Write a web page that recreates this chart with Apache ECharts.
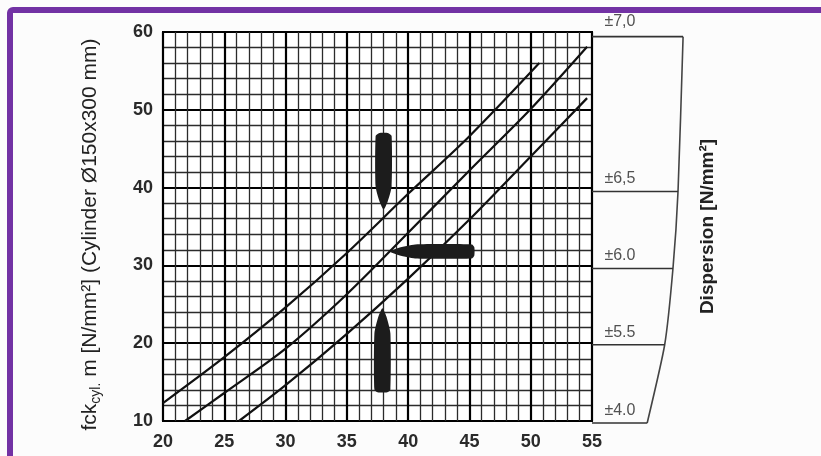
<!DOCTYPE html>
<html>
<head>
<meta charset="utf-8">
<script src="https://cdn.jsdelivr.net/npm/echarts@6/dist/echarts.min.js"></script>
<style>
html,body{margin:0;padding:0;background:#fcfcfc;}
#chart{width:821px;height:456px;}
</style>
</head>
<body>
<div id="chart"></div>
<script>
// ---- data ----
const xTicks = [20, 25, 30, 35, 40, 45, 50, 55];
const yTicks = [10, 20, 30, 40, 50, 60];
const curveA = [[20,12.3],[25,18.2],[30,24.6],[35,31.6],[40,39.2],[45,46.6],[50.7,56.0]];
const curveB = [[21.8,10],[25,13.6],[30,19.3],[35,26.3],[40,34.2],[45,42.2],[50,50.1],[54.6,58.1]];
const curveC = [[26.2,10],[30,14.6],[35,21.2],[40,28.3],[45,35.9],[50,44.0],[54.6,51.5]];
const markerBase = [[38.0,47.0],[45.4,31.8],[37.9,13.7]];
const markerTip  = [[38.0,37.2],[38.5,31.8],[37.9,24.5]];
const panelLabels = ['±7,0','±6,5','±6.0','±5.5','±4.0'];
const panelLevels = [59.4, 39.5, 29.6, 19.8, 9.75];
const panelEdge   = [0.99, 0.935, 0.88, 0.79, 0.60];

const chart = echarts.init(document.getElementById('chart'), null, {renderer:'canvas'});
const font = 'Liberation Sans, Arial, sans-serif';

const curveSeries = [curveA, curveB, curveC].map(d => ({
  type:'line', xAxisIndex:0, yAxisIndex:0, data:d, showSymbol:false, smooth:0.3,
  lineStyle:{color:'#111', width:2.2}, silent:true, z:5
}));

const markerData = markerBase.map((b,i)=>[b[0], b[1], markerTip[i][0], markerTip[i][1]]);
const markerSeries = {
  type:'custom', xAxisIndex:0, yAxisIndex:0, data:markerData, z:6,
  renderItem:function(params, api){
    const p0 = api.coord([api.value(0), api.value(1)]);
    const p1 = api.coord([api.value(2), api.value(3)]);
    const dx = p1[0]-p0[0], dy = p1[1]-p0[1];
    const L = Math.hypot(dx, dy);
    const ux = dx/L, uy = dy/L, nx = -uy, ny = ux;
    const h = params.dataIndex === 1 ? 7 : 8;
    const pt = (a,b)=>[p0[0]+ux*a+nx*b, p0[1]+uy*a+ny*b];
    const points = [pt(0,-h*0.6), pt(h*0.35,-h), pt(L*0.7,-h), pt(L*0.9,-h*0.5), pt(L,0),
                    pt(L*0.9,h*0.5), pt(L*0.7,h), pt(h*0.35,h), pt(0,h*0.6)];
    return {type:'polygon', shape:{points:points, smooth:0.2}, style:{fill:'#1c1c1c'}};
  }
};

const panelEdgeSeries = {
  type:'line', xAxisIndex:1, yAxisIndex:1, clip:false, showSymbol:false, smooth:0.2,
  data: panelLevels.map((y,i)=>[panelEdge[i], y]),
  lineStyle:{color:'#444', width:1.6}, silent:true
};
const panelLineSeries = panelLevels.map((y,i)=>({
  type:'line', xAxisIndex:1, yAxisIndex:1, clip:false, showSymbol:false,
  data:[[0,y],[panelEdge[i],y]], lineStyle:{color:'#333', width:1.6}, silent:true
}));
const panelLabelSeries = {
  type:'scatter', xAxisIndex:1, yAxisIndex:1, clip:false, symbolSize:1,
  itemStyle:{color:'rgba(0,0,0,0)'}, silent:true,
  data: panelLevels.map((y,i)=>({
    value:[0.14, y, panelLabels[i]],
    label:{offset:[0, i===0 ? -7 : -4]}
  })),
  label:{show:true, formatter:p=>p.value[2], position:[0,0], align:'left', verticalAlign:'bottom',
         fontFamily:font, fontSize:16, color:'#262626'},
  z:7
};

chart.setOption({
  backgroundColor:'#fcfcfc',
  animation:false,
  graphic:[{
    type:'rect', shape:{x:10, y:10, width:900, height:520, r:3},
    style:{fill:'none', stroke:'#7232a4', lineWidth:6}, z:100
  }],
  grid:[
    {left:163, right:229, top:32, bottom:35, show:true, borderColor:'#000', borderWidth:2, backgroundColor:'#fff'},
    {left:592, right:137, top:32, bottom:35, show:false}
  ],
  xAxis:[
    {gridIndex:0, type:'value', min:xTicks[0], max:xTicks[xTicks.length-1], interval:5,
     axisLine:{show:false}, axisTick:{show:false},
     axisLabel:{margin:12, fontFamily:font, fontSize:18, fontWeight:'bold', color:'#2a2a2a'},
     splitLine:{show:true, lineStyle:{color:'#000', width:2.2}},
     minorTick:{show:false, splitNumber:5},
     minorSplitLine:{show:true, lineStyle:{color:'#2b2b2b', width:1.3}}},
    {gridIndex:1, type:'value', min:0, max:1, show:false}
  ],
  yAxis:[
    {gridIndex:0, type:'value', min:yTicks[0], max:yTicks[yTicks.length-1], interval:10,
     axisLine:{show:false}, axisTick:{show:false},
     axisLabel:{margin:10, fontFamily:font, fontSize:18, fontWeight:'bold', color:'#2a2a2a'},
     splitLine:{show:true, lineStyle:{color:'#000', width:2.2}},
     minorTick:{show:false, splitNumber:5},
     minorSplitLine:{show:true, lineStyle:{color:'#2b2b2b', width:1.3}},
     name:'{n|fck}{s|cyl.}{n| m [N/mm²] (Cylinder Ø150x300 mm)}',
     nameLocation:'middle', nameGap:60,
     nameTextStyle:{fontFamily:font, color:'#222', padding:[0,16,0,0],
       rich:{n:{fontFamily:font, fontSize:21, color:'#222', lineHeight:26},
             s:{fontFamily:font, fontSize:14, color:'#222', verticalAlign:'bottom', lineHeight:18}}}},
    {gridIndex:1, type:'value', min:10, max:60, position:'right',
     axisLine:{show:false}, axisTick:{show:false}, axisLabel:{show:false}, splitLine:{show:false},
     name:'Dispersion [N/mm²]', nameLocation:'middle', nameGap:14,
     nameTextStyle:{fontFamily:font, fontSize:19, fontWeight:'bold', color:'#222'}}
  ],
  series:[...curveSeries, markerSeries, panelEdgeSeries, ...panelLineSeries, panelLabelSeries]
});
</script>
</body>
</html>
